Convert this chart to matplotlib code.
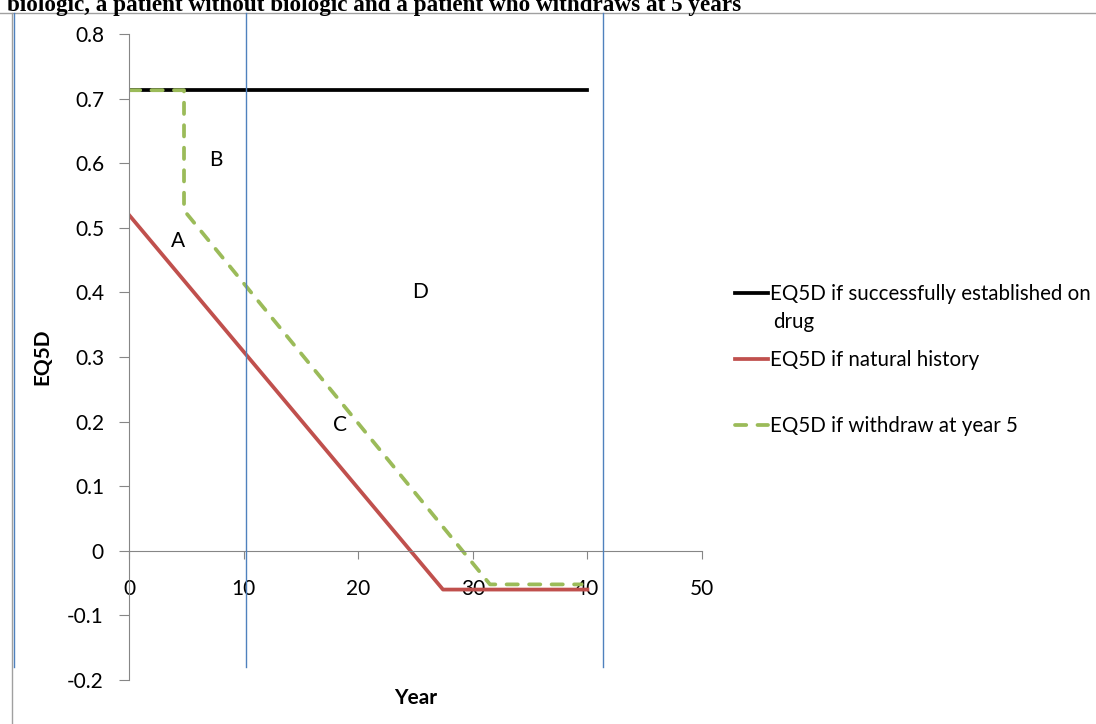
import matplotlib
matplotlib.use("Agg")
import matplotlib.pyplot as plt
from matplotlib.lines import Line2D

# data
years_drug = [0, 40]
eq5d_drug = [0.713, 0.713]

years_natural = [0, 27.4, 40]
eq5d_natural = [0.52, -0.06, -0.06]

years_withdraw = [0, 4.8, 4.8, 31.5, 39.5]
eq5d_withdraw = [0.713, 0.713, 0.527, -0.052, -0.052]

area_labels = ["A", "B", "C", "D"]
area_pos = [(4.3, 0.48), (7.6, 0.605), (18.4, 0.194), (25.4, 0.40)]

legend_labels = ["EQ5D if successfully established on", "EQ5D if natural history",
                 "EQ5D if withdraw at year 5"]

title_txt = "biologic, a patient without biologic and a patient who withdraws at 5 years"

W, H = 1096, 724
plt.rcParams['font.family'] = ['Lato', 'DejaVu Sans']

fig = plt.figure(figsize=(W / 100, H / 100), dpi=100)
ax = fig.add_axes([129 / W, 1 - 680 / H, 573 / W, 646 / H])

gray = "#868686"
ax.plot(years_drug, eq5d_drug, color="black", lw=2.7, label=legend_labels[0])
ax.plot(years_natural, eq5d_natural, color="#C0504D", lw=2.7, label=legend_labels[1])
ax.plot(years_withdraw, eq5d_withdraw, color="#9BBB59", lw=2.7, dashes=(3.0, 3.0),
        dash_capstyle="round", label=legend_labels[2])

for lab, (x, y) in zip(area_labels, area_pos):
    ax.text(x, y, lab, fontsize=15, ha="center", va="center")

ax.set_xlim(0, 50)
ax.set_ylim(-0.2, 0.8)
ax.set_xticks(range(0, 51, 10))
ax.set_yticks([-0.2, -0.1, 0, 0.1, 0.2, 0.3, 0.4, 0.5, 0.6, 0.7, 0.8])
ax.set_yticklabels(["-0.2", "-0.1", "0", "0.1", "0.2", "0.3", "0.4", "0.5", "0.6", "0.7", "0.8"])

for s in ["top", "right"]:
    ax.spines[s].set_visible(False)
ax.spines["bottom"].set_position(("data", 0))
ax.spines["bottom"].set_color(gray)
ax.spines["left"].set_color(gray)
ax.tick_params(axis="both", colors=gray, labelcolor="black", labelsize=15, direction="out")
ax.tick_params(axis="x", length=6, pad=14)
ax.tick_params(axis="y", length=7, pad=11)
ax.patch.set_visible(False)

ax.set_xlabel("Year", fontsize=15, fontweight="bold")
ax.set_ylabel("EQ5D", fontsize=15, fontweight="bold")
ax.xaxis.set_label_coords(0.5, -0.013)
ax.yaxis.set_label_coords(-0.134, 0.5)

leg = ax.legend(loc="upper left", bbox_to_anchor=(735 / W, 1 - 284 / H),
                bbox_transform=fig.transFigure, frameon=False, fontsize=14.8,
                handlelength=1.6, handletextpad=0.12, labelspacing=2.25,
                borderpad=0, borderaxespad=0)
fig.text(773 / W, 1 - 322 / H, "drug", fontsize=14.8, va="center", ha="left")

# page frame and stray drawing lines from the source document
fig.add_artist(Line2D([0, 1], [1 - 13 / H] * 2, color="#a0a0a0", lw=1))
fig.add_artist(Line2D([12 / W] * 2, [0, 1 - 13 / H], color="#a0a0a0", lw=1))
for px in [14, 246, 603]:
    fig.add_artist(Line2D([px / W] * 2, [1 - 667 / H, 1 - 13 / H], color="#4F81BD", lw=1))

fig.text(7 / W, 1 - 11 / H, title_txt, fontsize=16.7, fontweight="bold",
         family="Liberation Serif", va="baseline", ha="left")

fig.savefig("out.png", dpi=100)
